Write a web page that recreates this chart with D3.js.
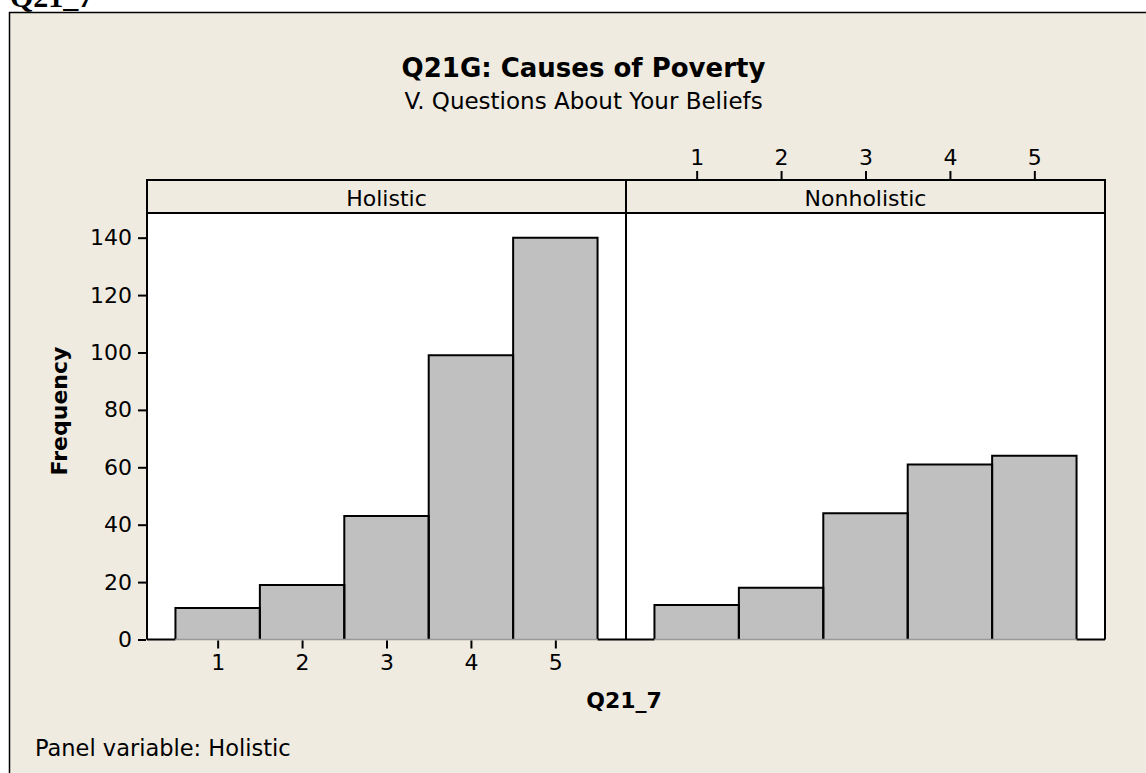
<!DOCTYPE html>
<html>
<head>
<meta charset="utf-8">
<script src="https://cdn.jsdelivr.net/npm/d3@7"></script>
<style>
	body{ margin:0; background:#fff; }
	svg text{ font-family:"DejaVu Sans",Tahoma,sans-serif; fill:#000; }
</style>
</head>
<body>
<svg id="chart" width="1146" height="773"></svg>
<script>
// 데이터
var categories = [1, 2, 3, 4, 5];
var panels = ['Holistic', 'Nonholistic'];
var holisticCounts = [11, 19, 43, 99, 140];
var nonholisticCounts = [12, 18, 44, 61, 64];
var yTicks = [0, 20, 40, 60, 80, 100, 120, 140];

var svg = d3.select('#chart');
var W = 1146, H = 773;

var panelLeft = 147, panelRight = 1105
	,headTop = 180, headH = 33
	,plotTop = headTop + headH, baseY = 639.5;
var panelW = (panelRight - panelLeft) / 2;
var fs = '22px';

// 바깥 틀
svg.append('text')
	.attr('x', 10).attr('y', 7)
	.style('font-family', '"Liberation Serif",serif')
	.style('font-weight', 'bold').style('font-size', '30px')
	.text('Q21_7');
svg.append('rect')
	.attr('x', 9.5).attr('y', 12.5)
	.attr('width', W + 20).attr('height', H + 20)
	.attr('fill', '#efebe1').attr('stroke', '#000').attr('stroke-width', 1.5);

// 제목
svg.append('text').attr('x', 583.5).attr('y', 77)
	.attr('text-anchor', 'middle')
	.style('font-weight', 'bold').style('font-size', '26px')
	.text('Q21G: Causes of Poverty');
svg.append('text').attr('x', 583.5).attr('y', 109)
	.attr('text-anchor', 'middle')
	.style('font-size', '23px')
	.text('V. Questions About Your Beliefs');

var y = d3.scaleLinear().domain([0, 148.6]).range([baseY, plotTop]);
var x = d3.scaleLinear().domain([0.163, 5.837]).range([0, panelW]);

var data = [holisticCounts, nonholisticCounts];

panels.forEach(function(name, i){
	var g = svg.append('g').attr('transform', 'translate(' + (panelLeft + i * panelW) + ',0)');
	// 패널 배경
	g.append('rect')
		.attr('x', 0).attr('y', plotTop)
		.attr('width', panelW).attr('height', baseY - plotTop)
		.attr('fill', '#fff');
	// 막대
	var bars = categories.map(function(c, k){ return { x0: c - 0.5, x1: c + 0.5, n: data[i][k] }; });
	g.selectAll('rect.bar').data(bars).enter().append('rect')
		.attr('class', 'bar')
		.attr('x', function(d){ return x(d.x0); })
		.attr('y', function(d){ return y(d.n); })
		.attr('width', function(d){ return x(d.x1) - x(d.x0); })
		.attr('height', function(d){ return y(0) - y(d.n); })
		.attr('fill', '#c0c0c0');
	g.selectAll('path.bar').data(bars).enter().append('path')
		.attr('d', function(d){
			return 'M' + x(d.x0) + ',' + y(0) + 'V' + y(d.n) + 'H' + x(d.x1) + 'V' + y(0);
		})
		.attr('fill', 'none').attr('stroke', '#000').attr('stroke-width', 2);
	// 패널 테두리 (막대 아래쪽은 회색)
	g.append('path')
		.attr('d', 'M0,' + baseY + 'H' + x(0.5) + 'M' + x(5.5) + ',' + baseY + 'H' + panelW)
		.attr('stroke', '#000').attr('stroke-width', 2);
	g.append('line')
		.attr('x1', x(0.5)).attr('x2', x(5.5)).attr('y1', baseY).attr('y2', baseY)
		.attr('stroke', '#999').attr('stroke-width', 1.5);
	g.append('path')
		.attr('d', 'M0,' + baseY + 'V' + headTop + 'H' + panelW + 'V' + baseY)
		.attr('fill', 'none').attr('stroke', '#000').attr('stroke-width', 2);
	// 헤더
	g.append('line')
		.attr('x1', 0).attr('x2', panelW).attr('y1', plotTop).attr('y2', plotTop)
		.attr('stroke', '#000').attr('stroke-width', 2);
	g.append('text')
		.attr('x', panelW / 2).attr('y', headTop + 26)
		.attr('text-anchor', 'middle').style('font-size', fs)
		.text(name);

	// x축: 첫 패널은 아래, 둘째 패널은 위
	var ax = (i == 0 ? d3.axisBottom(x) : d3.axisTop(x))
		.tickValues(categories).tickSize(8).tickPadding(6)
		.tickFormat(d3.format('d'));
	var gx = g.append('g')
		.attr('transform', 'translate(0,' + (i == 0 ? baseY + 1 : headTop - 1) + ')')
		.call(ax);
	gx.select('.domain').remove();
	gx.selectAll('line').attr('stroke', '#000').attr('stroke-width', 2);
	gx.selectAll('text').style('font-size', fs).attr('fill', '#000');
});

// y축
var gy = svg.append('g')
	.attr('transform', 'translate(' + (panelLeft - 1) + ',0)')
	.call(d3.axisLeft(y).tickValues(yTicks).tickSize(8).tickPadding(6));
gy.select('.domain').remove();
gy.selectAll('line').attr('stroke', '#000').attr('stroke-width', 2);
gy.selectAll('text').style('font-size', fs).attr('fill', '#000');

// 축 제목
svg.append('text')
	.attr('transform', 'translate(67,411) rotate(-90)')
	.attr('text-anchor', 'middle')
	.style('font-weight', 'bold').style('font-size', '22px')
	.text('Frequency');
svg.append('text')
	.attr('x', 624).attr('y', 708)
	.attr('text-anchor', 'middle')
	.style('font-weight', 'bold').style('font-size', '22px')
	.text('Q21_7');

svg.append('text')
	.attr('x', 35).attr('y', 756)
	.style('font-size', '22.5px')
	.text('Panel variable: Holistic');
</script>
</body>
</html>
